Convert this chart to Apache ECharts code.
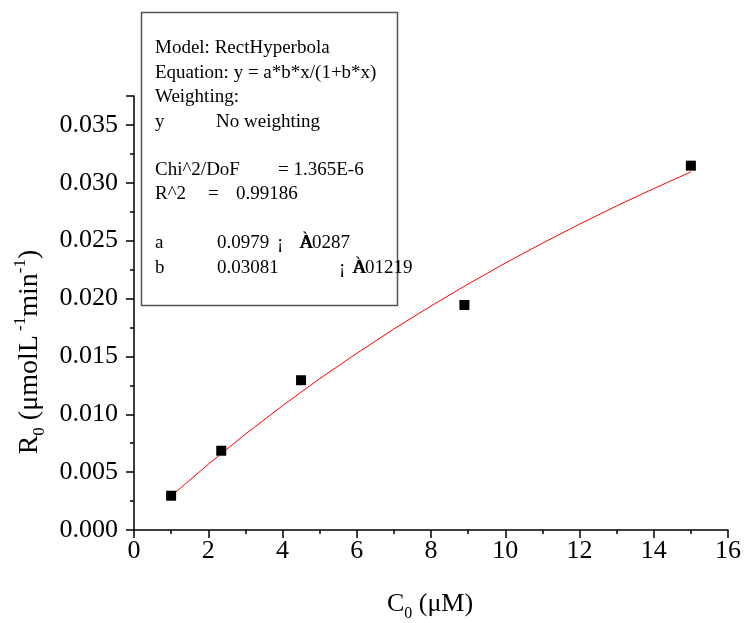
<!DOCTYPE html>
<html>
<head>
<meta charset="utf-8">
<script src="https://cdn.jsdelivr.net/npm/echarts@6/dist/echarts.min.js"></script>
<style>html,body{margin:0;padding:0;background:#fff;}#c{width:744px;height:623px;}</style>
</head>
<body>
<div id="c"></div>
<script>
// Measured data points (C0 in µM, R0 in µmol L-1 min-1)
const dataX = [1.0, 2.35, 4.5, 8.9, 15.0];
const dataY = [0.00296, 0.00685, 0.01294, 0.01944, 0.03148];
// Fit curve values
const fitX = [1, 2, 3, 4, 5, 6, 7, 8, 9, 10, 11, 12, 13, 14, 15];
const fitY = [0.00293, 0.00568, 0.00828, 0.01074, 0.01307, 0.01527, 0.01737, 0.01936, 0.02125, 0.02306, 0.02478, 0.02643, 0.02800, 0.02950, 0.03094];
// Fit report lines
const reportLines = [
  ['Model: RectHyperbola'],
  ['Equation: y = a*b*x/(1+b*x)'],
  ['Weighting:'],
  ['y', 'No weighting'],
  [],
  ['Chi^2/DoF', '= 1.365E-6'],
  ['R^2', '=', '0.99186'],
  [],
  ['a', '0.0979', '¡', 'À', '0287'],
  ['b', '0.03081', '¡', 'À', '01219']
];
const xTitle = ['C', '0', ' (\u03bcM)'];
const yTitle = ['R', '0', ' (\u03bcmolL', ' -1', 'min', '-1', ')'];

const FONT = "'Liberation Serif','Times New Roman',serif";
const chart = echarts.init(document.getElementById('c'), null, {renderer: 'canvas'});

function txt(x, y, s, size) {
  return {type: 'text', x: x, y: y, style: {text: s, font: size + 'px ' + FONT, fill: '#000', align: 'left', verticalAlign: 'middle'}, z: 10};
}
const rowY = [48, 73, 97, 122, 146, 170, 194, 219, 243, 268];
const graphics = [];
graphics.push({type: 'rect', shape: {x: 141.5, y: 12.5, width: 256, height: 293}, style: {fill: '#fff', stroke: '#555', lineWidth: 1.5}, z: 5});
reportLines.forEach(function (row, i) {
  const y = rowY[i];
  if (row.length === 1) graphics.push(txt(155, y, row[0], 19));
  else if (row.length === 2 && i === 3) { graphics.push(txt(155, y, row[0], 19)); graphics.push(txt(216, y, row[1], 19)); }
  else if (row.length === 2) { graphics.push(txt(155, y, row[0], 19)); graphics.push(txt(278, y, row[1], 19)); }
  else if (row.length === 3) { graphics.push(txt(155, y, row[0], 19)); graphics.push(txt(208, y, row[1], 19)); graphics.push(txt(236, y, row[2], 19)); }
  else if (row.length === 5) {
    const pos = i === 8 ? [155, 217, 277, 299, 312] : [155, 217, 339, 352, 365];
    graphics.push(txt(pos[0], y, row[0], 19));
    graphics.push(txt(pos[1], y, row[1], 19));
    graphics.push(txt(pos[2], y, row[2], 19));
    graphics.push(txt(pos[3], y, row[3], 19));
    graphics.push(txt(pos[3] + 1, y, 'A', 19));
    graphics.push(txt(pos[4], y, row[4], 19));
  }
});
// Axis titles with sub/superscripts
graphics.push({
  type: 'text', x: 430, y: 604, z: 10,
  style: {
    text: '{m|' + xTitle[0] + '}{sub|' + xTitle[1] + '}{m|' + xTitle[2] + '}',
    align: 'center', verticalAlign: 'middle',
    rich: {
      m: {font: '26px ' + FONT, fill: '#000', lineHeight: 36, verticalAlign: 'middle'},
      sub: {font: '16px ' + FONT, fill: '#000', lineHeight: 14, verticalAlign: 'bottom'}
    }
  }
});
graphics.push({
  type: 'text', x: 30, y: 352, rotation: Math.PI / 2, z: 10,
  style: {
    text: '{m|' + yTitle[0] + '}{sub|' + yTitle[1] + '}{m|' + yTitle[2] + '}{sup|' + yTitle[3] + '}{m|' + yTitle[4] + '}{sup|' + yTitle[5] + '}{m|' + yTitle[6] + '}',
    align: 'center', verticalAlign: 'middle',
    rich: {
      m: {font: '28px ' + FONT, fill: '#000', lineHeight: 36, verticalAlign: 'middle'},
      sub: {font: '17px ' + FONT, fill: '#000', lineHeight: 14, verticalAlign: 'bottom'},
      sup: {font: '17px ' + FONT, fill: '#000', lineHeight: 14, verticalAlign: 'top'}
    }
  }
});

const axisCommon = {
  axisLine: {show: true, onZero: false, lineStyle: {color: '#000', width: 1.5}},
  axisTick: {show: true, inside: false, length: 8, lineStyle: {color: '#000', width: 1.5}},
  minorTick: {show: true, splitNumber: 2, length: 4, lineStyle: {color: '#000', width: 1.5}},
  splitLine: {show: false},
  minorSplitLine: {show: false}
};

chart.setOption({
  animation: false,
  backgroundColor: '#fff',
  grid: {left: 134, right: 15, top: 96, bottom: 93, containLabel: false},
  xAxis: Object.assign({
    type: 'value', min: 0, max: 16, interval: 2,
    axisLabel: {fontFamily: FONT, fontSize: 26, color: '#000', margin: 8}
  }, axisCommon),
  yAxis: Object.assign({
    type: 'value', min: 0, max: 0.0375, interval: 0.005,
    axisLabel: {fontFamily: FONT, fontSize: 26, color: '#000', margin: 16,
      formatter: function (v) { return (Math.abs(v / 0.005 - Math.round(v / 0.005)) < 1e-6) ? v.toFixed(3) : ''; }}
  }, axisCommon),
  series: [
    {type: 'line', data: fitX.map(function (x, i) { return [x, fitY[i]]; }), showSymbol: false, symbol: 'none',
      lineStyle: {color: '#ff0000', width: 1}, z: 2},
    {type: 'scatter', data: dataX.map(function (x, i) { return [x, dataY[i]]; }), symbol: 'rect', symbolSize: 10,
      itemStyle: {color: '#000', opacity: 1}, z: 3}
  ],
  graphic: graphics
});
</script>
</body>
</html>
